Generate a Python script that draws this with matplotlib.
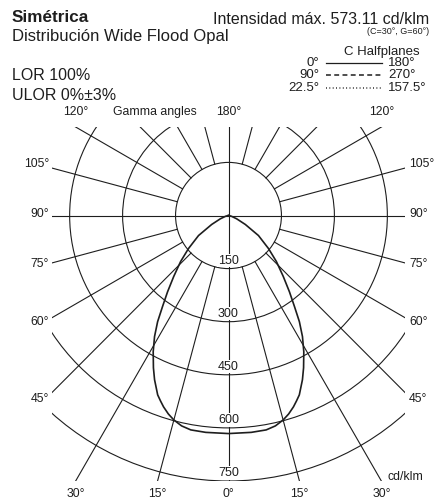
import numpy as np
import matplotlib
matplotlib.use("Agg")
import matplotlib.pyplot as plt
from matplotlib.patches import Circle

# intensity distribution (cd/klm), symmetric luminaire
gamma_deg = [0, 6, 10, 12.6, 15, 16.9, 18.8, 20.2, 21.6, 24.3, 26.3, 29.0, 31.5, 33.8,
             36.0, 38.7, 42.0, 46.2, 50.5, 56.3, 62, 68, 75, 82, 90]
intensity = [616, 616, 615, 609, 598, 586, 571, 558, 545, 509, 480, 440, 401, 361,
             318, 276, 232, 188, 147, 102, 54, 25, 9, 2, 0]

ring_values = [150, 300, 450, 600, 750]
spoke_angles = [15, 30, 45, 60, 75, 105, 120, 135, 150, 165]
side_labels = [105, 90, 75, 60, 45]
bottom_labels = [30, 15, 0]

title = "Simétrica"
subtitle = "Distribución Wide Flood Opal"
max_text = "Intensidad máx. 573.11 cd/klm"
max_note = "(C=30°, G=60°)"
lor_lines = ["LOR 100%", "ULOR 0%±3%"]
legend_rows = [("0°", "180°", "-"), ("90°", "270°", (0, (3.2, 2.2))), ("22.5°", "157.5°", (0, (0.6, 1.6)))]

plt.rcParams['font.family'] = ['Liberation Sans', 'DejaVu Sans']
ink = '#1e1e1e'

W, H = 446, 503
fig = plt.figure(figsize=(W / 100, H / 100), dpi=100)
fig.patch.set_facecolor('white')

# axes box in pixels: x 52..405, y 127..481
ax = fig.add_axes([52 / W, (H - 481) / H, 353 / W, 354 / H])
ax.set_xlim(-500, 500)
ax.set_ylim(-750, 250)
ax.axis('off')

px = 1000 / 353.0  # data units per pixel

# rings
for r in ring_values:
    ax.add_patch(Circle((0, 0), r, fill=False, lw=0.8, ec=ink, zorder=1))

# spokes start at the first ring
for g in spoke_angles:
    t = np.radians(g)
    for s in (-1, 1):
        ax.plot([s * 150 * np.sin(t), s * 1200 * np.sin(t)],
                [-150 * np.cos(t), -1200 * np.cos(t)], color=ink, lw=0.8, zorder=1)
ax.plot([-500, 500], [0, 0], color=ink, lw=0.8, zorder=1)
ax.plot([0, 0], [-750, 250], color=ink, lw=0.8, zorder=1)

# ring labels
for r in ring_values:
    ax.text(0, -r + 8 * px, str(r), ha='center', va='center', fontsize=9, color=ink,
            bbox=dict(boxstyle='square,pad=0.05', fc='white', ec='none'), zorder=3)

# curve
g = np.radians(gamma_deg)
I = np.array(intensity, dtype=float)
xs = np.concatenate([-(I * np.sin(g))[::-1], (I * np.sin(g))[1:]])
ys = np.concatenate([(-I * np.cos(g))[::-1], (-I * np.cos(g))[1:]])
ax.plot(xs, ys, color=ink, lw=1.2, zorder=4, solid_joinstyle='round')

# side angle labels
for a in side_labels:
    t = np.radians(a)
    y_end = -500 * np.cos(t) / np.sin(t)
    y_lab = y_end - (11 * np.cos(t) - 1.5) * px
    ax.text(-500 - 3 * px, y_lab, f"{a}°", ha='right', va='center', fontsize=8.8,
            color=ink, clip_on=False)
    ax.text(500 + 4 * px, y_lab, f"{a}°", ha='left', va='center', fontsize=8.8,
            color=ink, clip_on=False)

# top labels
y_top = 250 + 15 * px
x120 = 250 / np.tan(np.radians(30))
ax.text(-x120, y_top, "120°", ha='center', va='center', fontsize=8.8, color=ink, clip_on=False)
ax.text(x120, y_top, "120°", ha='center', va='center', fontsize=8.8, color=ink, clip_on=False)
ax.text(0, y_top, "180°", ha='center', va='center', fontsize=8.8, color=ink, clip_on=False)
ax.text(-74 * px, y_top, "Gamma angles", ha='center', va='center', fontsize=8.8,
        color=ink, clip_on=False)

# bottom labels
y_bot = -750 - 13 * px
for a in bottom_labels:
    xb = 750 * np.tan(np.radians(a))
    for s in ((-1, 1) if a else (1,)):
        ax.text(s * xb, y_bot, f"{a}°", ha='center', va='center', fontsize=8.8,
                color=ink, clip_on=False)
ax.text(159 * px, -750 + 4 * px, "cd/klm", ha='left', va='center', fontsize=8.8,
        color=ink, clip_on=False)

# header
def fx(x):
    return x / W

def fy(y):
    return 1 - y / H

fig.text(fx(12), fy(18), title, ha='left', va='center', fontsize=12.3, fontweight='bold', color=ink)
fig.text(fx(12), fy(36), subtitle, ha='left', va='center', fontsize=12, color=ink)
fig.text(fx(429), fy(20), max_text, ha='right', va='center', fontsize=11.5, color=ink)
fig.text(fx(429), fy(32), max_note, ha='right', va='center', fontsize=6.5, color=ink)
fig.text(fx(12), fy(75), lor_lines[0], ha='left', va='center', fontsize=11.5, color=ink)
fig.text(fx(12), fy(95), lor_lines[1], ha='left', va='center', fontsize=11.5, color=ink)

fig.text(fx(382), fy(52), "C Halfplanes", ha='center', va='center', fontsize=9.5, color=ink)
for i, (lft, rgt, ls) in enumerate(legend_rows):
    yy = fy(63 + 12.3 * i)
    fig.text(fx(319), yy, lft, ha='right', va='center', fontsize=9.5, color=ink)
    fig.text(fx(388), yy, rgt, ha='left', va='center', fontsize=9.5, color=ink)
    fig.add_artist(plt.Line2D([fx(326), fx(382)], [yy, yy], transform=fig.transFigure,
                              color=ink, lw=1.1 if ls != '-' else 0.9, linestyle=ls))

fig.savefig("out.png", dpi=100, facecolor='white')
